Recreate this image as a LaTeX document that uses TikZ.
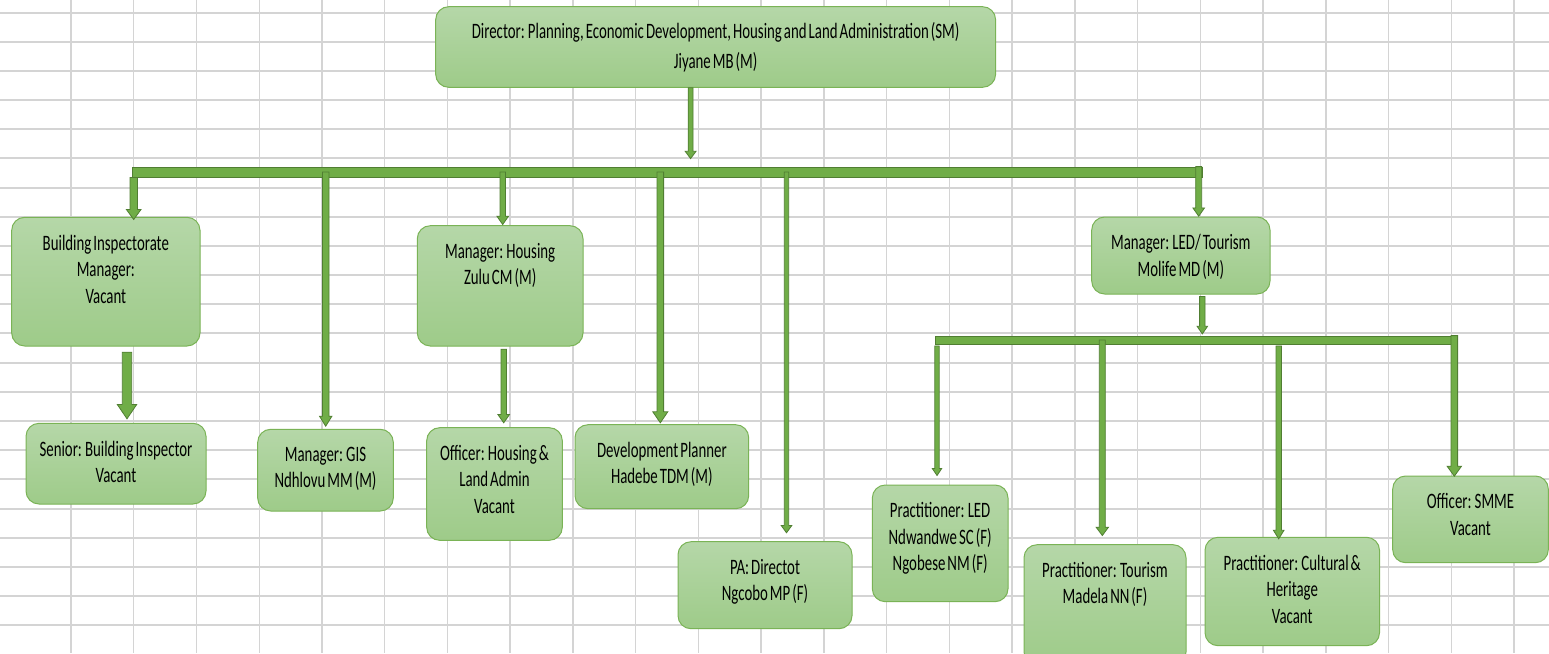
\documentclass[tikz,border=0pt]{standalone}
\usepackage{fontspec}
\setmainfont{Carlito}[FakeStretch=0.675, WordSpace=0.6]
\usetikzlibrary{calc}

\definecolor{gridgray}{HTML}{D4D4D4}
\definecolor{boxtop}{HTML}{B5D7A8}
\definecolor{boxbot}{HTML}{9ECB89}
\definecolor{boxedge}{HTML}{7AB356}
\definecolor{arrfill}{HTML}{70AD47}
\definecolor{arredge}{HTML}{507E32}

\tikzset{
  gridv/.style={draw=gridgray, line width=1.4pt},
  gridh/.style={draw=gridgray, line width=2pt},
  orgbox/.style={draw=boxedge, line width=1pt, rounded corners=13pt,
    top color=boxtop, bottom color=boxbot, inner sep=0pt},
  orgtext/.style={anchor=north, inner sep=0pt, align=center, text=black,
    font=\fontsize{22}{26.5}\selectfont},
  arrowbody/.style={fill=arrfill, draw=arredge, line width=0.8pt, line join=miter},
  barbody/.style={fill=arrfill, draw=arredge, line width=0.8pt, inner sep=0pt},
}

% box given by left, top, right, bottom; text hangs from the top edge
\newcommand\orgnode[7][]{%
  \node[orgbox, minimum width={#5-#3}, minimum height={#6-#4}] (#2)
    at ({(#3+#5)/2},{(#4+#6)/2}) {};
  \node[orgtext,#1] (#2-t) at ([yshift=-17.8pt]#2.north) {#7};
}

% block arrow: #1 source point, #2 tip, #3 half shaft, #4 half head, #5 head length
\newcommand\blockarrow[5]{%
  \draw[arrowbody] ($(#1)+(-#3,0)$) -- ($(#2)+(-#3,-#5)$) -- ($(#2)+(-#4,-#5)$)
    -- (#2) -- ($(#2)+(#4,-#5)$) -- ($(#2)+(#3,-#5)$) -- ($(#1)+(#3,0)$) -- cycle;
}

\begin{document}
\begin{tikzpicture}[x=1pt, y=-1pt]
\useasboundingbox (0,0) rectangle (1549,653);
\clip (0,0) rectangle (1549,653);
\fill[white] (0,0) rectangle (1549,653);

% worksheet grid
\foreach \k in {0,...,23}
  \draw[gridv] ({71+62.74*\k},0) -- ({71+62.74*\k},653);
\foreach \k in {0,...,21}
  \draw[gridh] (0,{12.5+29.18*\k}) -- (1549,{12.5+29.18*\k});

% positions
\orgnode[font=\fontsize{22}{29.4}\selectfont, yshift=1.4pt]{dir}{435.7}{6.7}{995.6}{87.3}
  {Director: Planning, Economic Development, Housing and Land Administration (SM)\\Jiyane MB (M)}
\orgnode{bi}{11.7}{217.3}{200}{346}{Building Inspectorate\\Manager:\\Vacant}
\orgnode{sbi}{26}{423.3}{206}{504}{Senior: Building Inspector\\Vacant}
\orgnode{gis}{257.7}{429.3}{393.3}{511}{Manager: GIS\\Ndhlovu MM (M)}
\orgnode{hou}{417.3}{225.7}{583}{346}{Manager: Housing\\Zulu CM (M)}
\orgnode{off}{426.7}{427.7}{562.3}{540.3}{Officer: Housing \&\\Land Admin\\Vacant}
\orgnode{dev}{575}{424.7}{748.7}{508.7}{Development Planner\\Hadebe TDM (M)}
\orgnode{pa}{678}{541.7}{852}{628.7}{PA: Directot\\Ngcobo MP (F)}
\orgnode{led}{1091.7}{217}{1270}{294}{Manager: LED/ Tourism\\Molife MD (M)}
\orgnode{pled}{872.3}{485}{1008}{601.7}{Practitioner: LED\\Ndwandwe SC (F)\\Ngobese NM (F)}
\orgnode{tou}{1024}{544.7}{1186}{665}{Practitioner: Tourism\\Madela NN (F)}
\orgnode{cul}{1205}{537.3}{1379.5}{645.7}{Practitioner: Cultural \&\\Heritage\\Vacant}
\orgnode{smme}{1392.7}{476}{1548.3}{562.7}{Officer: SMME\\Vacant}

% distribution bars
\node[barbody, minimum width=1070, minimum height=10] (bar) at (667,172) {};
\node[barbody, minimum width=522, minimum height=8] (ledbar) at (1196,340) {};

% arrow tips
\coordinate (dir-tip)  at ([xshift=23.6pt, yshift=8pt]bar.north);
\coordinate (bi-tip)   at ([xshift=27.85pt, yshift=-2.7pt]bi.north);
\coordinate (gis-tip)  at ([xshift=0.2pt, yshift=2.6pt]gis.north);
\coordinate (hou-tip)  at ([xshift=2.55pt, yshift=0.7pt]hou.north);
\coordinate (dev-tip)  at ([xshift=-1.55pt, yshift=1.4pt]dev.north);
\coordinate (pa-tip)   at ([xshift=21.5pt, yshift=8.4pt]pa.north);
\coordinate (led-tip)  at ([xshift=17.85pt, yshift=0.3pt]led.north);
\coordinate (sbi-tip)  at ([xshift=11pt, yshift=4pt]sbi.north);
\coordinate (off-tip)  at ([xshift=9.2pt, yshift=4.4pt]off.north);
\coordinate (lbar-tip) at ([xshift=6.3pt, yshift=1.7pt]ledbar.north);
\coordinate (pled-tip) at ([xshift=-3.15pt, yshift=9pt]pled.north);
\coordinate (tou-tip)  at ([xshift=-2.7pt, yshift=8.7pt]tou.north);
\coordinate (cul-tip)  at ([xshift=-13.55pt, yshift=-2pt]cul.north);
\coordinate (smme-tip) at ([xshift=-16.2pt, yshift=-0.7pt]smme.north);

% arrow sources
\coordinate (dir-src)  at (dir-tip |- dir.south);
\coordinate (bi-src)   at (bi-tip |- bar.south);
\coordinate (gis-src)  at (gis-tip |- bar.center);
\coordinate (hou-src)  at (hou-tip |- bar.center);
\coordinate (dev-src)  at (dev-tip |- bar.center);
\coordinate (pa-src)   at (pa-tip |- bar.center);
\coordinate (led-src)  at (led-tip |- bar.north);
\coordinate (sbi-src)  at ($(sbi-tip |- bi.south)+(0,5.7)$);
\coordinate (off-src)  at ($(off-tip |- hou.south)+(0,2.7)$);
\coordinate (lbar-src) at ($(lbar-tip |- led.south)+(0,2)$);
\coordinate (pled-src) at ($(pled-tip |- ledbar.south)+(0,1.5)$);
\coordinate (tou-src)  at (tou-tip |- ledbar.center);
\coordinate (cul-src)  at ($(cul-tip |- ledbar.south)+(0,1.5)$);
\coordinate (smme-src) at (smme-tip |- ledbar.north);

% connectors
\blockarrow{dir-src}{dir-tip}{2.4}{5.4}{7.3}
\blockarrow{bi-src}{bi-tip}{3.7}{7.3}{10}
\blockarrow{gis-src}{gis-tip}{3.3}{6.2}{10}
\blockarrow{hou-src}{hou-tip}{2.7}{5.8}{8.3}
\blockarrow{dev-src}{dev-tip}{3.3}{7.5}{11}
\blockarrow{pa-src}{pa-tip}{2.2}{5.3}{7.3}
\blockarrow{led-src}{led-tip}{3}{5.8}{8.3}
\blockarrow{sbi-src}{sbi-tip}{4.7}{9.7}{14.3}
\blockarrow{off-src}{off-tip}{2.7}{5.8}{8.3}
\blockarrow{lbar-src}{lbar-tip}{2.7}{5.2}{7.6}
\blockarrow{pled-src}{pled-tip}{2.2}{4.7}{7}
\blockarrow{tou-src}{tou-tip}{3}{6.2}{8.3}
\blockarrow{cul-src}{cul-tip}{2.7}{5.3}{8.5}
\blockarrow{smme-src}{smme-tip}{3.3}{7.2}{10}
\end{tikzpicture}
\end{document}
